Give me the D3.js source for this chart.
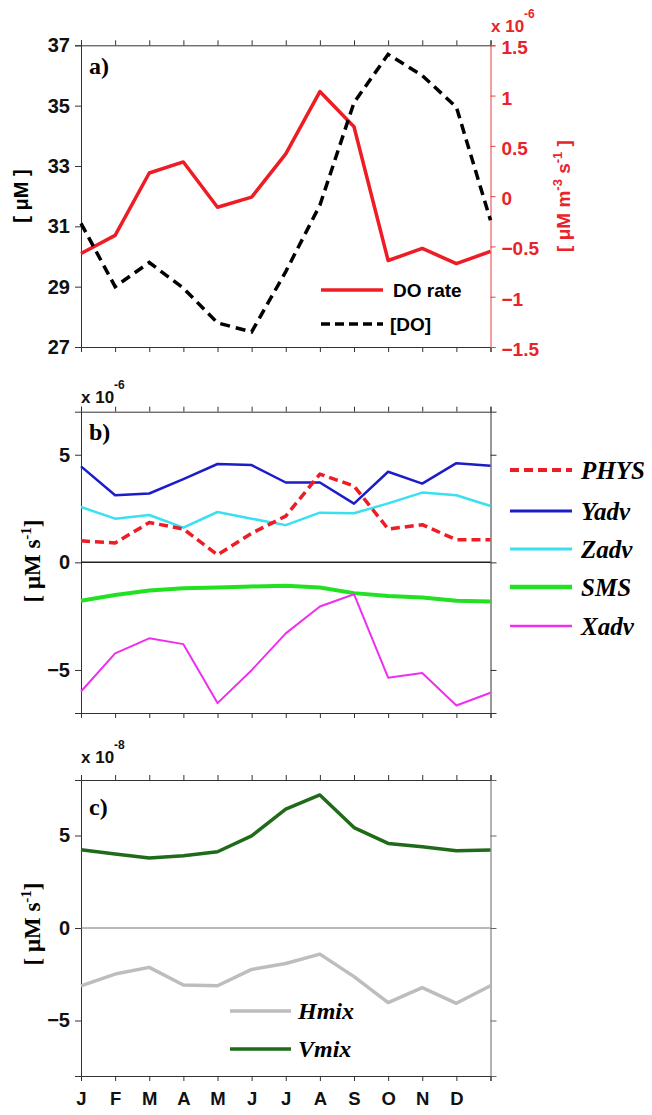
<!DOCTYPE html>
<html><head><meta charset="utf-8">
<script src="https://cdn.jsdelivr.net/npm/d3@7"></script>
<style>body{margin:0;background:#fff}svg{display:block}</style>
</head><body>
<script>
// ---- data ----
const months = ["J","F","M","A","M","J","J","A","S","O","N","D"];
const monthIdx = d3.range(13); // 13 points: J..D and closing J
const doRate = [-0.57,-0.39,0.23,0.34,-0.11,-0.01,0.42,1.04,0.69,-0.64,-0.52,-0.67,-0.55];
const doConc = [31.1,29.0,29.8,28.95,27.8,27.5,29.5,31.7,35.1,36.7,36.0,34.95,31.2];
const PHYS = [1.0,0.9,1.85,1.55,0.35,1.35,2.15,4.1,3.55,1.55,1.75,1.05,1.05];
const Yadv = [4.46,3.12,3.2,3.87,4.57,4.52,3.71,3.71,2.73,4.21,3.66,4.61,4.49];
const Zadv = [2.57,2.03,2.2,1.61,2.34,2.03,1.73,2.31,2.28,2.74,3.24,3.12,2.62];
const SMS = [-1.78,-1.52,-1.31,-1.2,-1.17,-1.12,-1.09,-1.17,-1.43,-1.56,-1.63,-1.78,-1.82];
const Xadv = [-6.0,-4.23,-3.53,-3.8,-6.54,-5.01,-3.3,-2.05,-1.48,-5.36,-5.14,-6.65,-6.06];
const Vmix = [4.23,4.0,3.78,3.91,4.12,4.98,6.42,7.19,5.43,4.57,4.39,4.18,4.21];
const Hmix = [-3.13,-2.49,-2.13,-3.08,-3.12,-2.24,-1.92,-1.41,-2.63,-4.03,-3.22,-4.07,-3.12];
const ticksA = [27,29,31,33,35,37];
const ticksARight = [-1.5,-1,-0.5,0,0.5,1,1.5];
const ticksB = [-5,0,5];
const ticksC = [-5,0,5];

const W = 652, H = 1115;
const SANS = "'Liberation Sans', Arial, Helvetica, sans-serif";
const SERIF = "'Liberation Serif', 'Times New Roman', serif";
const AX = "#333";

const svg = d3.select("body").append("svg").attr("width", W).attr("height", H);
const x = d3.scaleLinear().domain([0, 12]).range([81, 490.5]);

function frame(y, yTop, yBot, opts) {
  const g = svg.append("g");
  g.append("g").attr("transform", `translate(0,${yTop})`)
    .call(d3.axisTop(x).tickValues(d3.range(13)).tickSize(5).tickFormat(""))
    .call(s => { s.selectAll("path,line").attr("stroke", AX); });
  const bot = g.append("g").attr("transform", `translate(0,${yBot})`)
    .call(d3.axisBottom(x).tickValues(d3.range(13)).tickSize(5).tickPadding(11)
      .tickFormat(i => opts.xLabels ? (months[i] || "") : ""))
    .call(s => { s.selectAll("path,line").attr("stroke", AX); });
  bot.selectAll("text").attr("font-family", SANS).attr("font-weight", "bold")
    .attr("font-size", 18.5).attr("fill", "#111");
  const left = g.append("g").attr("transform", `translate(${x(0)},0)`)
    .call(d3.axisLeft(y).tickValues(opts.ticks).tickSize(6).tickPadding(5))
    .call(s => { s.selectAll("path,line").attr("stroke", AX); });
  left.selectAll("text").attr("font-family", SANS).attr("font-weight", "bold")
    .attr("font-size", 20).attr("fill", "#111");
  return g;
}

// ---------- Panel a ----------
const yA = d3.scaleLinear().domain([27, 37]).range([347, 45.3]);
const yAR = d3.scaleLinear().domain([-1.5, 1.5]).range([347, 45.3]);
frame(yA, 45.3, 347, {ticks: ticksA});
const rightA = svg.append("g").attr("transform", `translate(${x(12)},0)`)
  .call(d3.axisRight(yAR).tickValues(ticksARight).tickSize(5).tickPadding(6)
    .tickFormat(d => d3.format("")(d)))
  .call(s => { s.selectAll("path,line").attr("stroke", "#e04040"); });
rightA.selectAll("text").attr("font-family", SANS).attr("font-weight", "bold")
  .attr("font-size", 19).attr("fill", "#e8242a").attr("dy", "0.45em");

svg.append("path").datum(doRate)
  .attr("d", d3.line().x((d, i) => x(monthIdx[i])).y(d => yAR(d))).attr("fill", "none")
  .attr("stroke", "#ee1c24").attr("stroke-width", 3.5).attr("stroke-linejoin", "round");
svg.append("path").datum(doConc)
  .attr("d", d3.line().x((d, i) => x(monthIdx[i])).y(d => yA(d))).attr("fill", "none")
  .attr("stroke", "#000").attr("stroke-width", 3.5).attr("stroke-dasharray", "10,6");

svg.append("text").attr("x", 89).attr("y", 74).text("a)")
  .attr("font-family", SERIF).attr("font-weight", "bold").attr("font-size", 24);

// legend a
svg.append("line").attr("x1", 321).attr("x2", 383).attr("y1", 290).attr("y2", 290)
  .attr("stroke", "#ee1c24").attr("stroke-width", 3.5);
svg.append("text").attr("x", 393).attr("y", 297).text("DO rate")
  .attr("font-family", SANS).attr("font-weight", "bold").attr("font-size", 19);
svg.append("line").attr("x1", 321).attr("x2", 383).attr("y1", 324).attr("y2", 324)
  .attr("stroke", "#000").attr("stroke-width", 3.5).attr("stroke-dasharray", "9,5");
svg.append("text").attr("x", 390).attr("y", 331).text("[DO]")
  .attr("font-family", SANS).attr("font-weight", "bold").attr("font-size", 19);

// axis titles a
svg.append("text").attr("transform", "translate(28,196) rotate(-90)")
  .attr("text-anchor", "middle").attr("font-family", SANS).attr("font-weight", "bold")
  .attr("font-size", 20).text("[ μM ]");
const rt = svg.append("text").attr("transform", "translate(570,196) rotate(-90)")
  .attr("text-anchor", "middle").attr("font-family", SANS).attr("font-weight", "bold")
  .attr("font-size", 19).attr("fill", "#e8242a");
rt.append("tspan").text("[ μM m");
rt.append("tspan").attr("dy", -8).attr("font-size", 13).text("-3");
rt.append("tspan").attr("dy", 8).text(" s");
rt.append("tspan").attr("dy", -8).attr("font-size", 13).text("-1");
rt.append("tspan").attr("dy", 8).text(" ]");

function sciLabel(xp, yp, exp, color) {
  const t = svg.append("text").attr("x", xp).attr("y", yp)
    .attr("font-family", SANS).attr("font-weight", "bold").attr("font-size", 17)
    .attr("fill", color);
  t.append("tspan").text("x 10");
  t.append("tspan").attr("dy", -14).attr("font-size", 12).text(exp);
}
sciLabel(491, 32, "-6", "#e8242a");

// ---------- Panel b ----------
const yB = d3.scaleLinear().domain([-7, 7]).range([713, 411.7]);
frame(yB, 411.7, 713, {ticks: ticksB});
svg.append("g").attr("transform", `translate(${x(12)},0)`)
  .call(d3.axisRight(yB).tickValues(ticksB).tickSize(6).tickFormat(""))
  .call(s => { s.selectAll("path,line").attr("stroke", AX); });
svg.append("line").attr("x1", x(0)).attr("x2", x(12)).attr("y1", yB(0)).attr("y2", yB(0))
  .attr("stroke", "#222").attr("stroke-width", 1.5);

const seriesB = [
  {name: "PHYS", data: PHYS, color: "#ee1c24", w: 3.5, dash: "9,5"},
  {name: "Yadv", data: Yadv, color: "#1c1cc8", w: 2.5},
  {name: "Zadv", data: Zadv, color: "#3ae0f0", w: 2.5},
  {name: "SMS", data: SMS, color: "#22e022", w: 4},
  {name: "Xadv", data: Xadv, color: "#ee30ee", w: 2}
];
const drawOrder = ["Zadv", "Yadv", "SMS", "Xadv", "PHYS"];
drawOrder.forEach(n => {
  const s = seriesB.find(d => d.name === n);
  svg.append("path").datum(s.data)
    .attr("d", d3.line().x((d, i) => x(monthIdx[i])).y(d => yB(d)))
    .attr("fill", "none").attr("stroke", s.color).attr("stroke-width", s.w)
    .attr("stroke-dasharray", s.dash || null).attr("stroke-linejoin", "round");
});
const legYB = [470, 511, 549, 587, 626];
seriesB.forEach((s, i) => {
  svg.append("line").attr("x1", 510).attr("x2", 572).attr("y1", legYB[i]).attr("y2", legYB[i])
    .attr("stroke", s.color).attr("stroke-width", s.w + 0.5).attr("stroke-dasharray", s.dash || null);
  svg.append("text").attr("x", 581).attr("y", legYB[i] + 9).text(s.name)
    .attr("font-family", SERIF).attr("font-weight", "bold").attr("font-style", "italic")
    .attr("font-size", 25);
});
svg.append("text").attr("x", 89).attr("y", 440).text("b)")
  .attr("font-family", SERIF).attr("font-weight", "bold").attr("font-size", 24);
sciLabel(81, 403, "-6", "#111");

function unitLabel(cy) {
  const t = svg.append("text").attr("transform", `translate(40,${cy}) rotate(-90)`)
    .attr("text-anchor", "middle").attr("font-family", SERIF).attr("font-weight", "bold")
    .attr("font-size", 23);
  t.append("tspan").text("[ μM s");
  t.append("tspan").attr("dy", -9).attr("font-size", 15).text("-1");
  t.append("tspan").attr("dy", 9).text("]");
}
unitLabel(561);

// ---------- Panel c ----------
const yC = d3.scaleLinear().domain([-8, 8]).range([1076, 780]);
frame(yC, 780, 1076, {ticks: ticksC, xLabels: true});
svg.append("g").attr("transform", `translate(${x(12)},0)`)
  .call(d3.axisRight(yC).tickValues(ticksC).tickSize(6).tickFormat(""))
  .call(s => { s.selectAll("path,line").attr("stroke", "#666"); });
svg.append("line").attr("x1", x(0)).attr("x2", x(12)).attr("y1", yC(0)).attr("y2", yC(0))
  .attr("stroke", "#777").attr("stroke-width", 1.2);

const seriesC = [
  {name: "Hmix", data: Hmix, color: "#bdbdbd", w: 3.5},
  {name: "Vmix", data: Vmix, color: "#1f6b1a", w: 3.5}
];
seriesC.forEach(s => {
  svg.append("path").datum(s.data)
    .attr("d", d3.line().x((d, i) => x(monthIdx[i])).y(d => yC(d)))
    .attr("fill", "none").attr("stroke", s.color).attr("stroke-width", s.w)
    .attr("stroke-linejoin", "round");
});
const legYC = [1011, 1049];
seriesC.forEach((s, i) => {
  svg.append("line").attr("x1", 230).attr("x2", 291).attr("y1", legYC[i]).attr("y2", legYC[i])
    .attr("stroke", s.color).attr("stroke-width", s.w);
  svg.append("text").attr("x", 298).attr("y", legYC[i] + 8).text(s.name)
    .attr("font-family", SERIF).attr("font-weight", "bold").attr("font-style", "italic")
    .attr("font-size", 24);
});
svg.append("text").attr("x", 89).attr("y", 815).text("c)")
  .attr("font-family", SERIF).attr("font-weight", "bold").attr("font-size", 24);
sciLabel(81, 763, "-8", "#111");
unitLabel(924);
</script>
</body></html>
